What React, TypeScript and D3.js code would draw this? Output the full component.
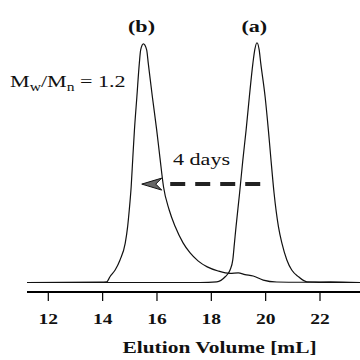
import * as d3 from "d3";

// elution volume (mL) and relative detector response
const traceBVol = [11.22, 13.9, 14.15, 14.27, 14.46, 14.64, 14.83, 14.92, 14.98, 15.05, 15.11, 15.17, 15.26, 15.35, 15.4, 15.5, 15.62, 15.68, 15.83, 15.99, 16.11, 16.24, 16.45, 16.67, 16.96, 17.22, 17.51, 17.85, 18.25, 18.69, 18.99, 19.24, 19.54, 19.91, 20.41, 21.27, 22.38, 23.49];
const traceBInt = [0, 0.2, 0.3, 2.4, 5.2, 9.4, 16.3, 23.3, 30.2, 39.9, 51.9, 63.5, 77.4, 91.3, 96.9, 99.4, 96.9, 91.3, 77.4, 63.5, 51.9, 39.9, 30.2, 23.3, 16.5, 12.3, 9.0, 6.5, 4.8, 3.8, 4.0, 3.3, 2.7, 1.0, 0.2, 0.1, 0.3, 0];

const traceAVol = [11.22, 17.59, 18.2, 18.51, 18.69, 18.79, 18.85, 18.91, 19.04, 19.16, 19.28, 19.4, 19.53, 19.6, 19.68, 19.76, 19.82, 19.98, 20.1, 20.19, 20.31, 20.47, 20.6, 20.78, 20.96, 21.21, 21.52, 22.38, 23.49];
const traceAInt = [0, 0, 0.3, 2.4, 5.2, 9.4, 16.3, 23.3, 37.2, 51.0, 63.5, 77.4, 91.3, 97.0, 99.9, 97.0, 91.3, 77.4, 63.5, 51.9, 37.2, 23.3, 16.3, 9.4, 5.2, 2.4, 0.3, 0, 0];

const xTicks = [12, 14, 16, 18, 20, 22];
const peakLabels = [
  { text: "(b)", vol: 15.43 },
  { text: "(a)", vol: 19.58 },
];
// arrow "4 days": from (a) towards (b)
const arrowFrom = 19.8;
const arrowTo = 15.44;
const arrowLevel = 41;

const W = 360, H = 360;
const SX = 1.3; // the scan is stretched sideways

const x = d3.scaleLinear().domain([12, 22]).range([48.3, 320]);
const y = d3.scaleLinear().domain([0, 100]).range([282.5, 42.5]);
const axisY = 292;

const line = d3.line<[number, number]>()
  .x(d => x(d[0])).y(d => y(d[1]))
  .curve(d3.curveMonotoneX);

const zip = (a: number[], b: number[]) => a.map((v, i) => [v, b[i]] as [number, number]);

function SText({ x0, y0, anchor = "start", size, bold = false, children }: any) {
  return (
    <text transform={`translate(${x0},${y0}) scale(${SX},1)`} textAnchor={anchor}
      fontFamily="Liberation Serif, Times New Roman, serif" fontSize={size}
      fontWeight={bold ? 700 : 400} fill="#111">
      {children}
    </text>
  );
}

export default function App() {
  const ay = y(arrowLevel);
  const tip = x(arrowTo);
  const headLen = 20;
  return (
    <svg width={W} height={H} style={{ position: "absolute", left: 0, top: 0, background: "#fff" }}>
      <rect width={W} height={H} fill="#fff" />

      {/* traces */}
      <path d={line(zip(traceBVol, traceBInt)) || ""} fill="none" stroke="#111" strokeWidth={1.2} />
      <path d={line(zip(traceAVol, traceAInt)) || ""} fill="none" stroke="#111" strokeWidth={1.2} />

      {/* x axis */}
      <line x1={27} x2={W} y1={axisY} y2={axisY} stroke="#000" strokeWidth={2.2} />
      {xTicks.map(t => (
        <g key={t}>
          <line x1={x(t)} x2={x(t)} y1={axisY} y2={axisY + 9} stroke="#000" strokeWidth={1.2} />
          <SText x0={x(t)} y0={323.5} anchor="middle" size={15} bold>{t}</SText>
        </g>
      ))}
      <SText x0={219.5} y0={353} anchor="middle" size={16.5} bold>Elution Volume [mL]</SText>

      {/* peak labels */}
      {peakLabels.map(p => (
        <SText key={p.text} x0={x(p.vol)} y0={32} anchor="middle" size={17} bold>{p.text}</SText>
      ))}

      <SText x0={10} y0={87} size={17}>
        <tspan>M</tspan>
        <tspan dy={4} fontSize={12}>w</tspan>
        <tspan dy={-4}>/M</tspan>
        <tspan dy={4} fontSize={12}>n</tspan>
        <tspan dy={-4}> = 1.2</tspan>
      </SText>

      {/* shift arrow */}
      <SText x0={173} y0={165} size={17}>4 days</SText>
      <line x1={x(arrowFrom)} x2={tip + headLen} y1={ay} y2={ay}
        stroke="#222" strokeWidth={4} strokeDasharray="15,10" />
      <path d={`M${tip},${ay} L${tip + headLen},${ay - 6} L${tip + headLen - 6},${ay} L${tip + headLen},${ay + 6} Z`}
        fill="#666" stroke="#111" strokeWidth={1} />
    </svg>
  );
}
